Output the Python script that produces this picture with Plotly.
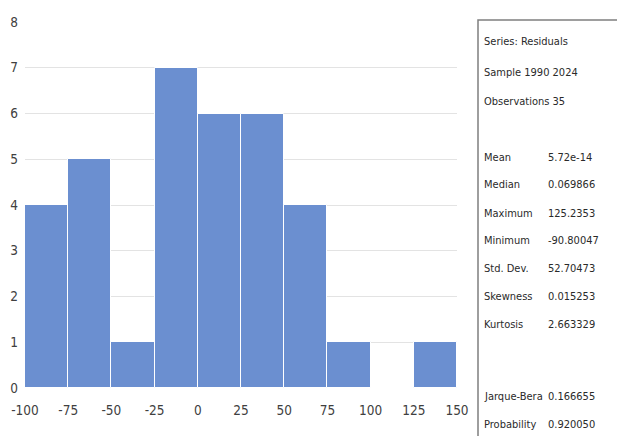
import plotly.graph_objects as go

# Histogram of residuals: bin edges and counts
bin_edges = [-100, -75, -50, -25, 0, 25, 50, 75, 100, 125, 150]
counts = [4, 5, 1, 7, 6, 6, 4, 1, 0, 1]
x_ticks = [-100, -75, -50, -25, 0, 25, 50, 75, 100, 125, 150]
y_ticks = [0, 1, 2, 3, 4, 5, 6, 7, 8]

header_lines = ["Series: Residuals", "Sample 1990 2024", "Observations 35"]
stat_names = ["Mean", "Median", "Maximum", "Minimum", "Std. Dev.", "Skewness", "Kurtosis"]
stat_values = ["5.72e-14", "0.069866", "125.2353", "-90.80047", "52.70473", "0.015253", "2.663329"]
test_names = ["Jarque-Bera", "Probability"]
test_values = ["0.166655", "0.920050"]

centers = [(a + b) / 2 for a, b in zip(bin_edges[:-1], bin_edges[1:])]
widths = [b - a for a, b in zip(bin_edges[:-1], bin_edges[1:])]

FONT = "DejaVu Sans Condensed, Liberation Sans Narrow, Lato, sans-serif"
W, H = 617, 436
ML, MR, MT, MB = 25, 160, 22, 48
PW, PH = W - ML - MR, H - MT - MB


def px_x(px):
    return (px - ML) / PW


def px_y(py):
    return (H - MB - py) / PH


fig = go.Figure(
    go.Bar(
        x=centers,
        y=counts,
        width=widths,
        marker=dict(color="#6b8fd0", line=dict(color="white", width=1)),
    )
)

annotations = []
for text, py in zip(header_lines, [42, 72, 101]):
    annotations.append(dict(x=px_x(482), y=px_y(py), text=text))
for name, val, py in zip(stat_names, stat_values, [157, 184, 213, 240, 268, 296, 324]):
    annotations.append(dict(x=px_x(482), y=px_y(py), text=name))
    annotations.append(dict(x=px_x(546), y=px_y(py), text=val))
for name, val, py in zip(test_names, test_values, [397, 424]):
    annotations.append(dict(x=px_x(482), y=px_y(py), text=name))
    annotations.append(dict(x=px_x(546), y=px_y(py), text=val))
for a in annotations:
    a.update(xref="paper", yref="paper", xanchor="left", yanchor="middle",
             showarrow=False, font=dict(family=FONT, size=11, color="#2a2a2a"))

fig.update_layout(
    width=W,
    height=H,
    margin=dict(l=ML, r=MR, t=MT, b=MB),
    paper_bgcolor="white",
    plot_bgcolor="white",
    showlegend=False,
    bargap=0,
    font=dict(family=FONT, size=13, color="#404040"),
    xaxis=dict(
        range=[bin_edges[0], bin_edges[-1]],
        tickvals=x_ticks,
        ticktext=[str(v) for v in x_ticks],
        showgrid=False,
        zeroline=False,
        showline=False,
        ticks="",
        ticklabelstandoff=12,
        tickfont=dict(size=13.5),
        automargin=False,
    ),
    yaxis=dict(
        range=[0, 8],
        tickvals=y_ticks,
        showgrid=True,
        gridcolor="#e3e3e3",
        gridwidth=1,
        zeroline=False,
        showline=False,
        ticks="",
        ticklabelstandoff=6,
        tickfont=dict(size=13.5),
        automargin=False,
    ),
    annotations=annotations,
    shapes=[
        dict(type="rect", xref="paper", yref="paper",
             x0=px_x(478), x1=px_x(622), y0=px_y(440), y1=px_y(20),
             line=dict(color="#7f7f7f", width=1.5), fillcolor="rgba(0,0,0,0)"),
    ],
)

fig.write_html("out.html")
